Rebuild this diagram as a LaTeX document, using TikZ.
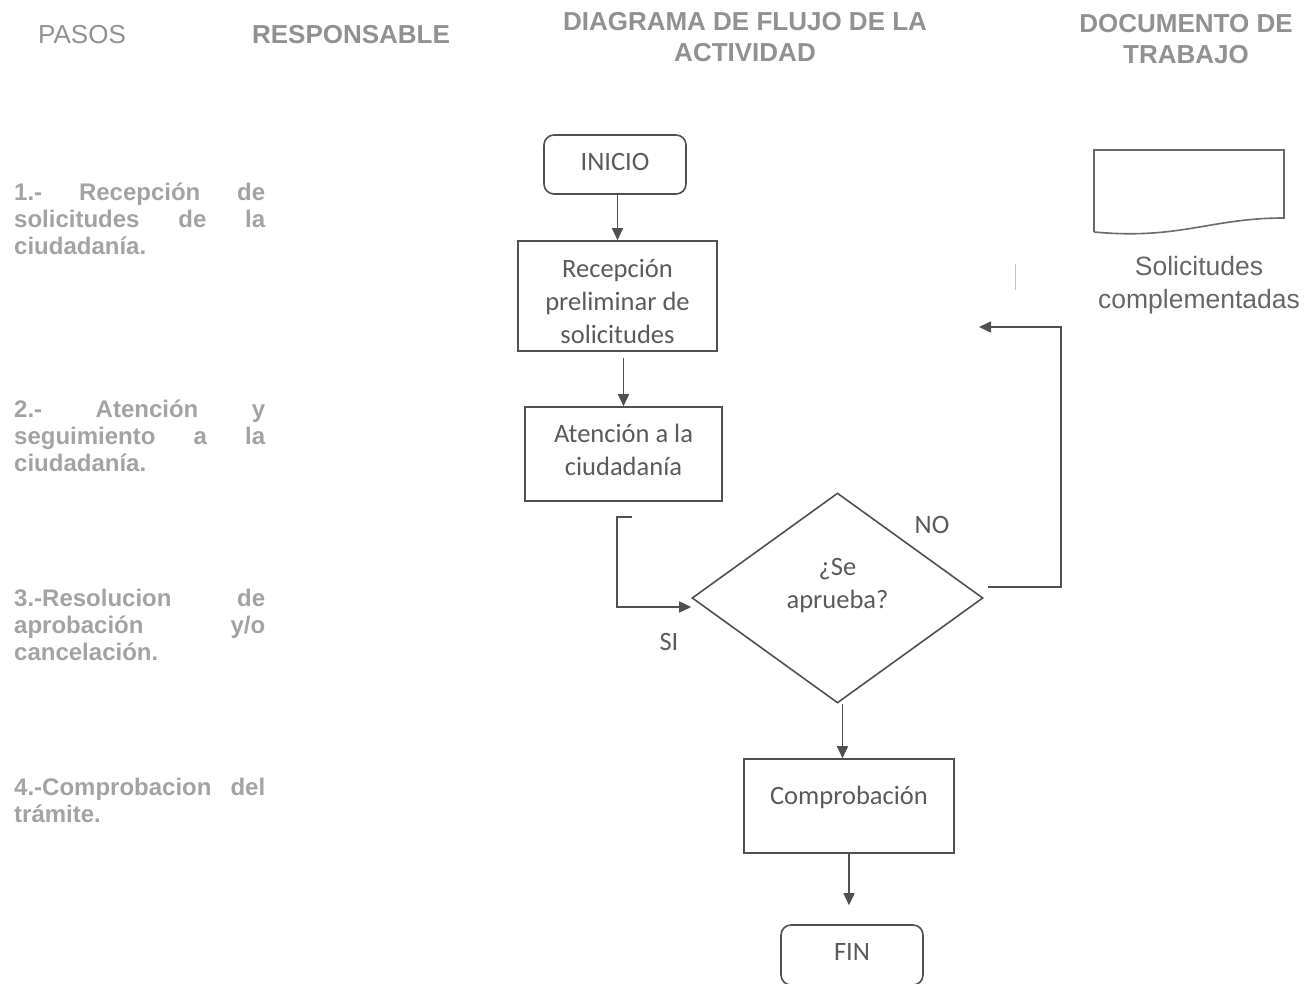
\documentclass[tikz,border=0pt]{standalone}
\usepackage{fontspec}
\setmainfont{Liberation Sans}
\newfontfamily\flowfont{Carlito}
\usetikzlibrary{shapes.geometric,arrows.meta}
\definecolor{headgray}{RGB}{145,145,145}
\definecolor{stepgray}{RGB}{165,162,162}
\definecolor{boxtext}{RGB}{90,90,90}
\definecolor{linegray}{RGB}{80,80,80}

\begin{document}
\begin{tikzpicture}[
		x=1pt, y=-1pt,
		head/.style={font=\fontsize{26}{31}\selectfont\bfseries, text=headgray, align=center, inner sep=0pt},
		steptext/.style={font=\fontsize{24}{27}\selectfont\bfseries, text=stepgray, text width=251pt, align=left, inner sep=0pt, anchor=west},
		boxlabel/.style={font=\flowfont\fontsize{26.5}{33}\selectfont, text=boxtext, align=center, inner sep=0pt},
		box/.style={draw=linegray, line width=1.6pt, inner sep=0pt},
		terminal/.style={box, rounded corners=10pt, minimum width=142pt},
		decision/.style={box, diamond, minimum width=291pt, minimum height=210pt},
		flow/.style={draw=linegray, line width=1.6pt, -{Triangle[length=12pt,width=11pt]}}
		]
		\useasboundingbox (0,0) rectangle (1313,984);
		% column titles
		\node[head, font=\fontsize{26}{31}\selectfont] (pasos) at (82,35) {PASOS};
		\node[head] (resp) at (351,35) {RESPONSABLE};
		\node[head] (diag) at (745,37) {DIAGRAMA DE FLUJO DE LA\\ACTIVIDAD};
		\node[head] (docu) at (1186,39) {DOCUMENTO DE\\TRABAJO};
		% steps
		\node[steptext] (paso1) at (14,219) {1.-\hfill Recepción\hfill de\\solicitudes\hfill de\hfill la\\ciudadanía.};
		\node[steptext] (paso2) at (14,436) {2.-\hfill Atención\hfill y\\seguimiento\hfill a\hfill la\\ciudadanía.};
		\node[steptext] (paso3) at (14,625) {3.-Resolucion\hfill de\\aprobación\hfill y/o\\cancelación.};
		\node[steptext] (paso4) at (14,800) {4.-Comprobacion\hfill del\\trámite.};
		% flow
		\node[terminal, minimum height=59pt, label={[boxlabel, yshift=3pt]center:INICIO}] (ini) at (615,164.5) {};
		\node[box, minimum width=199pt, minimum height=110pt, label={[boxlabel, yshift=-5pt]center:Recepción\\preliminar de\\solicitudes}] (rec) at (617.5,296) {};
		\node[box, minimum width=197pt, minimum height=94pt, label={[boxlabel, yshift=4pt]center:Atención a la\\ciudadanía}] (ate) at (623.5,454) {};
		\node[decision, label={[boxlabel, yshift=12pt]center:¿Se\\aprueba?}] (dec) at (837.5,598) {};
		\node[box, minimum width=210pt, minimum height=94pt, label={[boxlabel, yshift=9pt]center:Comprobación}] (cmp) at (849,806) {};
		\node[terminal, minimum height=60pt, label={[boxlabel, yshift=3pt]center:FIN}] (fin) at (852,955) {};
		\node[boxlabel] (si) at (669,642) {SI};
		\node[boxlabel] (no) at (932,525) {NO};
		\coordinate (sistart) at (632,517);
		\coordinate (nostart) at (988,587);
		\coordinate (noend) at (979,327);
		\coordinate (finin) at ([yshift=19pt]fin.north);
		\draw[flow] (ini.south -| rec.north) -- (rec.north);
		\draw[flow] ([yshift=-6pt]rec.south -| ate.north) -- (ate.north);
		\draw[flow] (sistart) -- ++(-15,0) |- ([yshift=-9pt]dec.west);
		\draw[flow] (nostart) -- ++(73,0) |- (noend);
		\draw[flow] ([xshift=5pt]dec.south) -- ([xshift=5pt]dec.south |- cmp.north);
		\draw[flow] (cmp.south) -- (cmp.south |- finin);
		% work document
		\draw[draw=linegray!85, line width=1.6pt] (1094,232) -- (1094,150) -- (1284,150) -- (1284,218)
			.. controls (1210,218) and (1180,240) .. (1094,232);
		\node[align=center, inner sep=0pt, font=\fontsize{26.5}{33}\selectfont, text=black!60] (doctext) at (1199,285) {Solicitudes\\complementadas};
		\draw[stepgray!70, line width=1pt] (1015,264) -- (1015,290);
	\end{tikzpicture}
\end{document}
